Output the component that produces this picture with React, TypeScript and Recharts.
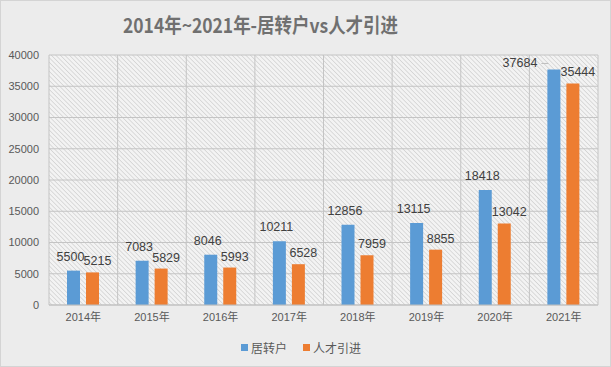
import React from 'react';
import { BarChart, Bar, XAxis, YAxis, CartesianGrid, Legend } from 'recharts';

const title = '2014年~2021年-居转户vs人才引进';
const years = ['2014年', '2015年', '2016年', '2017年', '2018年', '2019年', '2020年', '2021年'];
const juZhuanHu = [5500, 7083, 8046, 10211, 12856, 13115, 18418, 37684];
const renCaiYinJin = [5215, 5829, 5993, 6528, 7959, 8855, 13042, 35444];
const yTicks = [0, 5000, 10000, 15000, 20000, 25000, 30000, 35000, 40000];
const seriesNames = ['居转户', '人才引进'];

const BLUE = '#5b9bd5';
const ORANGE = '#ed7d31';
const FONT = '"Liberation Sans", "Noto Sans CJK SC", sans-serif';

const data = years.map((y, i) => ({ year: y, a: juZhuanHu[i], b: renCaiYinJin[i] }));

const makeLabel = (kind: 'a' | 'b') => (props: any) => {
  const { x, y, width, value, index } = props;
  const bx = Number(x);
  const by = Number(y);
  const w = Number(width);
  const cx = bx + w / 2;
  if (kind === 'a' && index === years.length - 1) {
    return (
      <g>
        <line x1={bx - 6} y1={by - 6} x2={bx + 1} y2={by - 6} stroke="#bfbfbf" strokeWidth={1} />
        <text x={bx - 10} y={by - 2} textAnchor="end" fontSize={12.5} fill="#404040" fontFamily={FONT}>
          {value}
        </text>
      </g>
    );
  }
  if (kind === 'a') {
    return (
      <text x={cx - 3} y={by - 10} textAnchor="middle" fontSize={12.5} fill="#404040" fontFamily={FONT}>
        {value}
      </text>
    );
  }
  return (
    <text x={cx + 5} y={by - 7} textAnchor="middle" fontSize={12.5} fill="#404040" fontFamily={FONT}>
      {value}
    </text>
  );
};

const LegendContent = () => (
  <div
    style={{
      display: 'flex',
      justifyContent: 'center',
      alignItems: 'center',
      fontFamily: FONT,
      fontSize: 12,
      color: '#595959',
      paddingTop: 4,
      paddingLeft: 4,
    }}
  >
    {seriesNames.map((n, i) => (
      <div key={n} style={{ display: 'flex', alignItems: 'center', marginRight: i === 0 ? 16 : 0 }}>
        <span
          style={{
            display: 'inline-block',
            width: 7,
            height: 7,
            background: i === 0 ? BLUE : ORANGE,
            marginRight: 3,
          }}
        />
        <span>{n}</span>
      </div>
    ))}
  </div>
);

export default function App() {
  return (
    <div
      style={{
        position: 'absolute',
        left: 0,
        top: 0,
        width: 611,
        height: 367,
        background: '#ececec',
        boxSizing: 'border-box',
        border: '1px solid #d4d4d4',
        overflow: 'hidden',
      }}
    >
      <div style={{ position: 'absolute', left: -1, top: -1 }}>
        <BarChart
          width={611}
          height={367}
          data={data}
          margin={{ top: 55, right: 13, left: 0, bottom: 10 }}
          barSize={13}
          barGap={6}
        >
          <defs>
            <pattern id="hatch" width="3.2" height="3.2" patternUnits="userSpaceOnUse" patternTransform="rotate(-45)">
              <rect width="3.2" height="3.2" fill="#f3f3f3" />
              <line x1="0" y1="0" x2="0" y2="3.2" stroke="#c6c6c6" strokeWidth="1.1" />
            </pattern>
          </defs>
          <CartesianGrid
            stroke="#c4c4c4"
            fill="url(#hatch)"
            fillOpacity={1}
            verticalCoordinatesGenerator={(p: any) => {
              const off = p.offset;
              return Array.from({ length: years.length + 1 }, (_, i) => off.left + (off.width * i) / years.length);
            }}
          />
          <XAxis
            dataKey="year"
            height={30}
            tickLine={false}
            axisLine={{ stroke: '#bfbfbf' }}
            tick={{ fontSize: 11, fill: '#595959', fontFamily: FONT }}
            interval={0}
          />
          <YAxis
            width={49}
            domain={[0, 40000]}
            ticks={yTicks}
            axisLine={false}
            tickLine={false}
            tickMargin={4}
            tick={{ fontSize: 11, fill: '#595959', fontFamily: FONT }}
          />
          <Legend verticalAlign="bottom" height={22} content={<LegendContent />} />
          <Bar dataKey="a" name={seriesNames[0]} fill={BLUE} isAnimationActive={false} label={makeLabel('a')} />
          <Bar dataKey="b" name={seriesNames[1]} fill={ORANGE} isAnimationActive={false} label={makeLabel('b')} />
        </BarChart>
      </div>
      <svg
        width={611}
        height={50}
        style={{ position: 'absolute', left: -1, top: -1, pointerEvents: 'none' }}
      >
        <text
          x={123}
          y={33}
          textLength={275}
          lengthAdjust="spacingAndGlyphs"
          fontSize={20}
          fontWeight="bold"
          fill="#707070"
          fontFamily='"Noto Sans CJK SC", sans-serif'
        >
          {title}
        </text>
      </svg>
    </div>
  );
}
